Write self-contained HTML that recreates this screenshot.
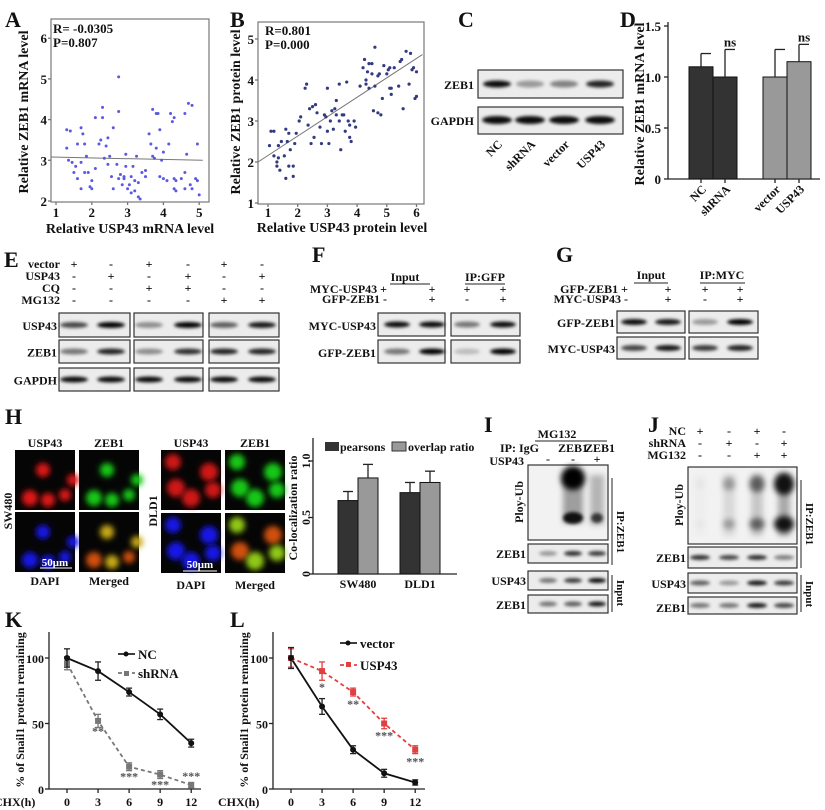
<!DOCTYPE html>
<html><head><meta charset="utf-8">
<style>
html,body{margin:0;padding:0;background:#fff;}
svg{display:block;font-family:"Liberation Serif",serif;font-weight:bold;}
</style></head>
<body>
<svg id="fig" width="825" height="810" viewBox="0 0 825 810" xmlns="http://www.w3.org/2000/svg">
<defs>
<filter id="blur2" x="-50%" y="-100%" width="200%" height="300%"><feGaussianBlur stdDeviation="1.6"/></filter>
<filter id="blur4" x="-50%" y="-50%" width="200%" height="200%"><feGaussianBlur stdDeviation="3"/></filter>
<filter id="blur6" x="-50%" y="-50%" width="200%" height="200%"><feGaussianBlur stdDeviation="5"/></filter>
</defs>
</svg>
<script>
// ---------- data ----------
const scatterAx=[1.3,1.4,1.3,1.35,1.45,1.5,1.55,1.6,1.6,1.7,1.7,1.7,1.75,1.8,1.8,1.85,1.9,1.95,2.0,2.0,2.1,2.1,2.2,2.25,2.3,2.3,2.35,2.4,2.45,2.45,2.5,2.55,2.6,2.6,2.7,2.75,2.75,2.75,2.8,2.85,2.9,2.9,2.95,2.95,3.0,3.05,3.1,3.1,3.15,3.2,3.2,3.25,3.3,3.3,3.35,3.4,3.5,3.5,3.6,3.65,3.7,3.7,3.75,3.8,3.85,3.8,3.9,3.9,3.95,4.0,4.0,4.1,4.15,4.2,4.25,4.3,4.3,4.3,4.35,4.35,4.5,4.6,4.6,4.6,4.65,4.7,4.75,4.8,4.8,4.9,4.95,4.95,5.0];
const scatterAy=[3.75,3.72,3.3,3.0,2.95,2.7,2.85,3.4,2.55,3.8,2.95,2.3,3.65,3.4,2.7,3.1,2.7,2.35,2.5,2.3,4.05,2.8,3.4,3.5,4.3,4.05,3.05,3.35,3.55,2.9,3.1,2.6,3.8,2.3,2.9,5.05,4.2,2.55,2.65,2.4,2.6,2.55,3.15,2.85,2.3,2.4,2.2,2.6,2.85,2.5,2.25,3.1,2.45,2.1,2.05,2.7,2.75,2.6,3.65,3.4,4.25,3.1,3.05,4.15,4.15,3.3,3.75,2.6,3.0,3.2,2.55,2.5,3.4,4.15,3.95,4.05,2.55,2.3,2.25,2.5,2.55,4.15,2.7,2.3,3.15,4.4,2.4,4.35,2.3,2.55,3.4,2.5,2.15];
const scatterBx=[1.05,1.1,1.2,1.2,1.3,1.3,1.35,1.35,1.4,1.45,1.55,1.6,1.6,1.65,1.7,1.7,1.75,1.85,1.85,1.9,1.95,2.05,2.1,2.25,2.3,2.35,2.4,2.45,2.5,2.55,2.6,2.65,2.75,2.8,2.9,2.95,3.0,3.0,3.05,3.1,3.15,3.2,3.25,3.3,3.3,3.4,3.4,3.45,3.5,3.55,3.6,3.65,3.7,3.75,3.75,3.8,3.9,3.95,4.1,4.2,4.25,4.3,4.3,4.35,4.4,4.4,4.5,4.5,4.55,4.6,4.6,4.7,4.7,4.75,4.8,4.85,4.9,5.0,5.05,5.1,5.1,5.15,5.15,5.25,5.4,5.45,5.5,5.55,5.65,5.75,5.8,5.85,5.9,5.95,6.0,6.0];
const scatterBy=[2.4,2.75,2.75,2.15,1.9,2.0,2.1,2.4,1.8,2.5,2.15,1.6,2.8,2.5,1.9,2.7,2.3,1.9,1.65,2.45,2.7,3.0,3.1,3.8,3.9,2.9,3.3,2.45,3.35,2.6,3.4,3.2,2.85,2.45,3.15,3.1,3.8,2.75,2.45,3.0,3.25,2.8,3.3,3.5,3.15,3.9,3.0,2.3,3.15,3.15,2.75,3.95,3.0,2.9,2.6,2.5,3.0,2.85,3.85,4.3,4.5,3.9,4.0,4.2,4.4,3.8,4.4,4.15,3.25,4.8,3.85,3.2,4.1,4.15,3.15,3.55,4.35,4.15,4.25,4.3,3.8,3.8,3.65,4.3,3.85,4.45,4.5,3.3,4.7,3.9,4.65,4.25,4.3,3.55,3.6,4.2];
const fitA=[[1.0,3.08],[5.1,3.0]];
const fitB=[[0.7,2.0],[6.2,4.62]];
const dCats=["NC","shRNA","vector","USP43"];
const dVals=[1.1,1.0,1.0,1.15];
const dErr=[0.13,0.27,0.27,0.17];
const dSig=["","ns","","ns"];
const hGroups=["SW480","DLD1"];
const hPearson=[0.65,0.72];
const hPearsonErr=[0.08,0.09];
const hOverlap=[0.85,0.81];
const hOverlapErr=[0.12,0.10];
const timeTicks=[0,3,6,9,12];
const kNC=[100,90,74,57,35];
const kNCerr=[7,7,3,4,3];
const kSh=[96,52,17,11,3];
const kShErr=[5,5,3,3,2];
const kSig=["","**","***","***","***"];
const lVec=[100,63,30,12,5];
const lVecErr=[8,6,3,3,2];
const lUsp=[100,90,74,50,30];
const lUspErr=[7,7,3,4,3];
const lSig=["","*","**","***","***"];

// ---------- helpers ----------
const svg=document.getElementById('fig');
const NS="http://www.w3.org/2000/svg";
function mk(tag,attrs,name,parent){
  const el=document.createElementNS(NS,tag);
  for(const k in attrs) el.setAttribute(k,attrs[k]);
  
  
  (parent||svg).appendChild(el);
  return el;
}
function txt(x,y,s,name,o){
  o=o||{};
  const a={x:x,y:y,'font-size':o.size||13,'text-anchor':o.anchor||'start',fill:o.fill||'#111'};
  if(o.rot!==undefined){a.transform='rotate('+o.rot+' '+x+' '+y+')';}
  const t=mk('text',a,name);
  t.textContent=s;
  return t;
}
function line(x1,y1,x2,y2,name,o){
  o=o||{};
  return mk('line',{x1:x1,y1:y1,x2:x2,y2:y2,stroke:o.stroke||'#222','stroke-width':o.w||1.3,'stroke-dasharray':o.dash||'none'},name);
}
function box(x,y,w,h,name,fill){
  return mk('rect',{x:x,y:y,width:w,height:h,fill:fill||'#ececec',stroke:'#333','stroke-width':1.2},name);
}
function band(cx,cy,w,h,op,name){
  return mk('ellipse',{cx:cx,cy:cy,rx:w/2,ry:h/2,fill:'#000','fill-opacity':op,filter:'url(#blur2)'},name);
}

// ---------- panel letters ----------
[["A",5,27],["B",230,27],["C",458,27],["D",620,27],["E",4,267],["F",312,262],["G",556,262],["H",5,424],["I",484,432],["J",648,432],["K",5,627],["L",230,627]].forEach(p=>{
  txt(p[1],p[2],p[0],'panel-label-'+p[0].toLowerCase(),{size:22});
});

// ---------- Panel A ----------
const axA=v=>56+(v-1)*35.8, ayA=v=>201-(v-2)*40.7;
mk('rect',{x:51,y:19,width:158,height:183,fill:'none',stroke:'#777','stroke-width':1.2},'scatter-a-frame');
[2,3,4,5,6].forEach(v=>{txt(47,ayA(v)+5,String(v),'a-y-tick',{anchor:'end'});line(48,ayA(v),51,ayA(v),'a-y-tickmark',{stroke:'#777'});});
[1,2,3,4,5].forEach(v=>{txt(axA(v),217,String(v),'a-x-tick',{anchor:'middle'});line(axA(v),202,axA(v),205,'a-x-tickmark',{stroke:'#777'});});
txt(130,233,'Relative USP43 mRNA level','a-x-axis-title',{anchor:'middle',size:14});
txt(28,112,'Relative ZEB1 mRNA level','a-y-axis-title',{anchor:'middle',size:14,rot:-90});
txt(53,33,'R= -0.0305','a-r-value',{size:13});
txt(53,47,'P=0.807','a-p-value',{size:13});
line(axA(fitA[0][0])-5,ayA(fitA[0][1]),axA(fitA[1][0]),ayA(fitA[1][1]),'a-fit-line',{stroke:'#777',w:1});
scatterAx.forEach((v,i)=>{mk('circle',{cx:axA(v),cy:ayA(scatterAy[i]),r:1.5,fill:'#5a5ae0'},'a-point');});

// ---------- Panel B ----------
const axB=v=>268+(v-1)*29.7, ayB=v=>203-(v-1)*41;
mk('rect',{x:258,y:22,width:166,height:182,fill:'none',stroke:'#777','stroke-width':1.2},'scatter-b-frame');
[1,2,3,4,5].forEach(v=>{txt(254,ayB(v)+5,String(v),'b-y-tick',{anchor:'end'});line(255,ayB(v),258,ayB(v),'b-y-tickmark',{stroke:'#777'});});
[1,2,3,4,5,6].forEach(v=>{txt(axB(v),217,String(v),'b-x-tick',{anchor:'middle'});line(axB(v),204,axB(v),207,'b-x-tickmark',{stroke:'#777'});});
txt(342,232,'Relative USP43 protein level','b-x-axis-title',{anchor:'middle',size:14});
txt(240,112,'Relative ZEB1 protein level','b-y-axis-title',{anchor:'middle',size:14,rot:-90});
txt(265,35,'R=0.801','b-r-value',{size:13});
txt(265,49,'P=0.000','b-p-value',{size:13});
line(258,ayB(fitB[0][1]),axB(fitB[1][0]),ayB(fitB[1][1]),'b-fit-line',{stroke:'#777',w:1});
scatterBx.forEach((v,i)=>{mk('circle',{cx:axB(v),cy:ayB(scatterBy[i]),r:1.6,fill:'#333a80'},'b-point');});

// ---------- Panel C ----------
box(478,70,145,28,'c-zeb1-blot');
box(478,107,145,27,'c-gapdh-blot');
txt(474,89,'ZEB1','c-zeb1-label',{anchor:'end',size:12});
txt(474,125,'GAPDH','c-gapdh-label',{anchor:'end',size:12});
[[497,0.95],[530,0.35],[564,0.45],[600,0.85]].forEach(b=>band(b[0],84,28,7,b[1],'c-zeb1-band'));
[497,530,564,600].forEach(x=>band(x,120,30,8,0.95,'c-gapdh-band'));
[["NC",497],["shRNA",530],["vector",564],["USP43",600]].forEach(l=>txt(l[1]+6,145,l[0],'c-lane-label',{anchor:'end',size:12,rot:-45}));

// ---------- Panel D ----------
const ayD=v=>179-v*102;
const dX=[701,725,775,799];
const dAxisX=668;
line(dAxisX,22,dAxisX,179,'d-y-axis');
line(dAxisX,179,820,179,'d-x-axis');
[0,0.5,1.0,1.5].forEach(v=>{line(dAxisX-4,ayD(v),dAxisX,ayD(v),'d-y-tickmark');txt(dAxisX-7,ayD(v)+5,v===0?'0':v.toFixed(1),'d-y-tick',{anchor:'end'});});
txt(644,104,'Relative ZEB1 mRNA level','d-y-axis-title',{anchor:'middle',size:14,rot:-90});
dVals.forEach((v,i)=>{
  const c=i<2?'#333':'#999';
  mk('rect',{x:dX[i]-12,y:ayD(v),width:24,height:179-ayD(v),fill:c,stroke:'#111','stroke-width':1},'d-bar-'+dCats[i].toLowerCase());
  line(dX[i],ayD(v),dX[i],ayD(v+dErr[i]),'d-error-bar');
  line(dX[i],ayD(v+dErr[i]),dX[i]+10,ayD(v+dErr[i]),'d-error-cap');
  if(dSig[i]) txt(dX[i]+5,ayD(v+dErr[i])-3,dSig[i],'d-significance',{anchor:'middle',size:13});
  line(dX[i],179,dX[i],183,'d-x-tickmark');
  txt(dX[i]+6,190,dCats[i],'d-x-tick',{anchor:'end',size:12,rot:-45});
});

// ---------- Panel E ----------
const eRows=[["vector",268,["+","-","+","-","+","-"]],["USP43",280,["-","+","-","+","-","+"]],["CQ",292,["-","-","+","+","-","-"]],["MG132",304,["-","-","-","-","+","+"]]];
const eCols=[74,111,149,188,224,262];
eRows.forEach(r=>{txt(60,r[1],r[0],'e-condition-label',{anchor:'end',size:12});r[2].forEach((s,i)=>txt(eCols[i],r[1],s,'e-condition-sign',{anchor:'middle',size:12}));});
const eBoxes=[[59,71],[134,69],[209,70]];
const eBlots=[["USP43",313,24,[0.7,1,0.4,1,0.6,0.9]],["ZEB1",340,23,[0.5,0.85,0.4,0.8,0.85,0.85]],["GAPDH",368,23,[0.95,0.95,0.95,0.95,0.95,0.95]]];
eBlots.forEach(r=>{
  txt(57,r[1]+r[2]/2+5,r[0],'e-blot-label',{anchor:'end',size:12});
  eBoxes.forEach(b=>box(b[0],r[1],b[1],r[2],'e-'+r[0].toLowerCase()+'-blot'));
  r[3].forEach((op,i)=>band(eCols[i],r[1]+r[2]/2,28,6,op,'e-band'));
});

// ---------- Panel F ----------
txt(405,281,'Input','f-input-header',{anchor:'middle',size:12});line(390,284,430,284,'f-input-underline',{w:1});
txt(485,281,'IP:GFP','f-ip-header',{anchor:'middle',size:12});line(465,284,505,284,'f-ip-underline',{w:1});
const fCols=[397,432,467,503];
[["MYC-USP43",293,["+","+","+","+"]],["GFP-ZEB1",303,["-","+","-","+"]]].forEach(r=>{txt(387,r[1],r[0]+' '+r[2][0],'f-condition-label',{anchor:'end',size:12});r[2].slice(1).forEach((s,i)=>txt(fCols[i+1],r[1],s,'f-condition-sign',{anchor:'middle',size:12}));});
[["MYC-USP43",313,[0.95,0.95,0.5,0.95]],["GFP-ZEB1",340,[0.5,1,0.2,1]]].forEach(r=>{
  txt(376,r[1]+17,r[0],'f-blot-label',{anchor:'end',size:12});
  box(378,r[1],67,23,'f-input-blot');box(451,r[1],69,23,'f-ip-blot');
  r[2].forEach((op,i)=>band(fCols[i],r[1]+11.5,26,6,op,'f-band'));
});

// ---------- Panel G ----------
txt(651,279,'Input','g-input-header',{anchor:'middle',size:12});line(634,283,668,283,'g-input-underline',{w:1});
txt(722,279,'IP:MYC','g-ip-header',{anchor:'middle',size:12});line(700,283,745,283,'g-ip-underline',{w:1});
const gCols=[634,668,705,740];
[["GFP-ZEB1",293,["+","+","+","+"]],["MYC-USP43",303,["-","+","-","+"]]].forEach(r=>{txt(628,r[1],r[0]+' '+r[2][0],'g-condition-label',{anchor:'end',size:12});r[2].slice(1).forEach((s,i)=>txt(gCols[i+1],r[1],s,'g-condition-sign',{anchor:'middle',size:12}));});
[["GFP-ZEB1",311,[0.95,0.9,0.35,1]],["MYC-USP43",337,[0.7,0.9,0.75,0.85]]].forEach(r=>{
  txt(615,r[1]+16,r[0],'g-blot-label',{anchor:'end',size:12});
  box(617,r[1],68,22,'g-input-blot');box(689,r[1],69,22,'g-ip-blot');
  r[2].forEach((op,i)=>band(gCols[i],r[1]+11,26,6,op,'g-band'));
});

// ---------- Panel H images ----------
function cell(x,y,colors,blobs,name){
  mk('rect',{x:x,y:y,width:60,height:60,fill:'#050505'},name);
  blobs.forEach((b,i)=>mk('circle',{cx:x+b[0],cy:y+b[1],r:b[2],fill:colors[i%colors.length],filter:'url(#blur4)'},name+'-cell'));
}
const swBlobs=[[28,20,7],[15,48,8],[33,50,7],[50,45,6],[58,30,6]];
const dlBlobs=[[12,12,8],[15,38,9],[30,48,9],[48,22,9],[52,40,8]];
cell(15,450,['#e01818'],swBlobs,'h-sw480-usp43-image');
cell(79,450,['#18c818'],swBlobs,'h-sw480-zeb1-image');
cell(15,512,['#1818e8'],swBlobs,'h-sw480-dapi-image');
cell(79,512,['#c8a818','#d05010'],swBlobs,'h-sw480-merged-image');
cell(161,450,['#d01818'],dlBlobs,'h-dld1-usp43-image');
cell(225,450,['#18c818'],dlBlobs,'h-dld1-zeb1-image');
cell(161,513,['#1818e8'],dlBlobs,'h-dld1-dapi-image');
cell(225,513,['#90c818','#d05010'],dlBlobs,'h-dld1-merged-image');
txt(45,447,'USP43','h-usp43-label',{anchor:'middle',size:12});txt(109,447,'ZEB1','h-zeb1-label',{anchor:'middle',size:12});
txt(191,447,'USP43','h-usp43-label-2',{anchor:'middle',size:12});txt(255,447,'ZEB1','h-zeb1-label-2',{anchor:'middle',size:12});
txt(45,585,'DAPI','h-dapi-label',{anchor:'middle',size:12});txt(109,585,'Merged','h-merged-label',{anchor:'middle',size:12});
txt(191,589,'DAPI','h-dapi-label-2',{anchor:'middle',size:12});txt(255,589,'Merged','h-merged-label-2',{anchor:'middle',size:12});
txt(12,511,'SW480','h-sw480-label',{anchor:'middle',size:12,rot:-90});
txt(157,511,'DLD1','h-dld1-label',{anchor:'middle',size:12,rot:-90});
txt(55,566,'50μm','h-scale-label',{anchor:'middle',size:11,fill:'#fff'});line(40,568,72,568,'h-scale-bar',{stroke:'#fff',w:1});
txt(200,568,'50μm','h-scale-label-2',{anchor:'middle',size:11,fill:'#fff'});line(183,571,217,571,'h-scale-bar-2',{stroke:'#fff',w:1});

// ---------- Panel H bar chart ----------
const ayH=v=>574-v*113;
const hX=[358,420];
line(313,438,313,574,'h-y-axis');line(313,574,457,574,'h-x-axis');
[0,0.5,1.0].forEach(v=>{line(309,ayH(v),313,ayH(v),'h-y-tickmark');txt(310,ayH(v),v===0?'0':v.toFixed(1),'h-y-tick',{anchor:'middle',size:12,rot:-90});});
txt(297,508,'Co-localization ratio','h-y-axis-title',{anchor:'middle',size:12,rot:-90});
hGroups.forEach((g,i)=>{
  mk('rect',{x:hX[i]-20,y:ayH(hPearson[i]),width:20,height:574-ayH(hPearson[i]),fill:'#333',stroke:'#111'},'h-bar-pearsons-'+g.toLowerCase());
  mk('rect',{x:hX[i],y:ayH(hOverlap[i]),width:20,height:574-ayH(hOverlap[i]),fill:'#999',stroke:'#111'},'h-bar-overlap-'+g.toLowerCase());
  line(hX[i]-10,ayH(hPearson[i]),hX[i]-10,ayH(hPearson[i]+hPearsonErr[i]),'h-error-bar');
  line(hX[i]-15,ayH(hPearson[i]+hPearsonErr[i]),hX[i]-5,ayH(hPearson[i]+hPearsonErr[i]),'h-error-cap');
  line(hX[i]+10,ayH(hOverlap[i]),hX[i]+10,ayH(hOverlap[i]+hOverlapErr[i]),'h-error-bar');
  line(hX[i]+5,ayH(hOverlap[i]+hOverlapErr[i]),hX[i]+15,ayH(hOverlap[i]+hOverlapErr[i]),'h-error-cap');
  txt(hX[i],588,g,'h-x-tick',{anchor:'middle',size:12});
});
mk('rect',{x:325,y:442,width:14,height:9,fill:'#333'},'h-legend-pearsons-swatch');
txt(340,451,'pearsons','h-legend-pearsons',{size:12});
mk('rect',{x:392,y:442,width:14,height:9,fill:'#999',stroke:'#333'},'h-legend-overlap-swatch');
txt(408,451,'overlap ratio','h-legend-overlap',{size:12});

// ---------- Panel I ----------
txt(557,438,'MG132','i-mg132-header',{anchor:'middle',size:12});line(535,441,607,441,'i-mg132-line',{w:1});
txt(500,452,'IP: IgG','i-ip-label',{size:12});txt(573,452,'ZEB1','i-ip-zeb1',{anchor:'middle',size:12});txt(600,452,'ZEB1','i-ip-zeb1-2',{anchor:'middle',size:12});
txt(524,465,'USP43','i-usp43-label',{anchor:'end',size:12});
const iCols=[548,573,597];
["-","-","+"].forEach((s,i)=>txt(iCols[i],463,s,'i-sign',{anchor:'middle',size:12}));
box(528,465,80,75,'i-polyub-blot','#f2f2f2');
mk('ellipse',{cx:573,cy:478,rx:12,ry:12,fill:'#000',filter:'url(#blur4)'},'i-polyub-smear');
mk('rect',{x:563,y:478,width:20,height:45,fill:'#000','fill-opacity':0.35,filter:'url(#blur4)'},'i-polyub-smear-body');
mk('ellipse',{cx:573,cy:518,rx:10,ry:6,fill:'#000','fill-opacity':0.9,filter:'url(#blur2)'},'i-polyub-band');
mk('rect',{x:590,y:475,width:14,height:50,fill:'#000','fill-opacity':0.25,filter:'url(#blur4)'},'i-polyub-smear-2');
mk('ellipse',{cx:597,cy:518,rx:6,ry:5,fill:'#000','fill-opacity':0.7,filter:'url(#blur2)'},'i-polyub-band-2');
txt(523,502,'Ploy-Ub','i-polyub-label',{anchor:'middle',size:12,rot:-90});
[["ZEB1",544,19,[0.35,0.8,0.75]],["USP43",571,19,[0.5,0.75,0.95]],["ZEB1",595,18,[0.5,0.6,0.9]]].forEach(r=>{
  txt(526,r[1]+14,r[0],'i-blot-label',{anchor:'end',size:12});
  box(528,r[1],80,r[2],'i-'+r[0].toLowerCase()+'-blot');
  r[3].forEach((op,i)=>band(iCols[i],r[1]+r[2]/2,18,5,op,'i-band'));
});
line(612,478,612,565,'i-ip-bracket',{w:1});txt(617,532,'IP:ZEB1','i-ip-bracket-label',{anchor:'middle',size:11,rot:90});
line(612,575,612,612,'i-input-bracket',{w:1});txt(617,593,'Input','i-input-bracket-label',{anchor:'middle',size:11,rot:90});

// ---------- Panel J ----------
const jCols=[700,729,757,784];
[["NC",435,["+","-","+","-"]],["shRNA",447,["-","+","-","+"]],["MG132",459,["-","-","+","+"]]].forEach(r=>{txt(686,r[1],r[0],'j-condition-label',{anchor:'end',size:12});r[2].forEach((s,i)=>txt(jCols[i],r[1],s,'j-condition-sign',{anchor:'middle',size:12}));});
box(688,467,109,77,'j-polyub-blot','#f2f2f2');
[0.05,0.35,0.6,1].forEach((op,i)=>{
  mk('rect',{x:jCols[i]-6,y:474,width:12,height:62,fill:'#000','fill-opacity':op*0.3,filter:'url(#blur4)'},'j-polyub-smear');
  mk('ellipse',{cx:jCols[i],cy:484,rx:4+op*6,ry:4+op*7,fill:'#000','fill-opacity':op*0.9,filter:'url(#blur4)'},'j-polyub-top');
  mk('ellipse',{cx:jCols[i],cy:524,rx:4+op*6,ry:3+op*5,fill:'#000','fill-opacity':op*0.9,filter:'url(#blur4)'},'j-polyub-band');
});
txt(683,505,'Ploy-Ub','j-polyub-label',{anchor:'middle',size:12,rot:-90});
[["ZEB1",547,21,[0.8,0.7,0.8,0.45]],["USP43",573,20,[0.6,0.35,0.9,0.75]],["ZEB1",597,17,[0.5,0.5,0.9,0.7]]].forEach(r=>{
  txt(686,r[1]+15,r[0],'j-blot-label',{anchor:'end',size:12});
  box(688,r[1],109,r[2],'j-'+r[0].toLowerCase()+'-blot');
  r[3].forEach((op,i)=>band(jCols[i],r[1]+r[2]/2,20,5,op,'j-band'));
});
line(801,480,801,568,'j-ip-bracket',{w:1});txt(806,524,'IP:ZEB1','j-ip-bracket-label',{anchor:'middle',size:11,rot:90});
line(801,575,801,612,'j-input-bracket',{w:1});txt(806,594,'Input','j-input-bracket-label',{anchor:'middle',size:11,rot:90});

// ---------- Panels K & L ----------
function lineChart(ox,prefix,s1,e1,s2,e2,c2){
  const ax=t=>ox+18+t*10.35, ay=v=>789-v*1.31;
  line(ox,632,ox,789,prefix+'-y-axis');line(ox,789,ox+152,789,prefix+'-x-axis');
  [0,50,100].forEach(v=>{line(ox-4,ay(v),ox,ay(v),prefix+'-y-tickmark');txt(ox-5,ay(v)+5,String(v),prefix+'-y-tick',{anchor:'end',size:12});});
  timeTicks.forEach(t=>{line(ax(t),789,ax(t),793,prefix+'-x-tickmark');txt(ax(t),806,String(t),prefix+'-x-tick',{anchor:'middle',size:12});});
  txt(ox-55,806,'CHX(h)',prefix+'-x-axis-title',{size:12});
  txt(ox-25,710,'% of Snail1 protein remaining',prefix+'-y-axis-title',{anchor:'middle',size:12,rot:-90});
  const p2=s2.map((v,i)=>ax(timeTicks[i])+','+ay(v)).join(' ');
  mk('polyline',{points:p2,fill:'none',stroke:c2,'stroke-width':1.8,'stroke-dasharray':'4,3'},prefix+'-series-2-line');
  const p1=s1.map((v,i)=>ax(timeTicks[i])+','+ay(v)).join(' ');
  mk('polyline',{points:p1,fill:'none',stroke:'#111','stroke-width':1.8},prefix+'-series-1-line');
  s2.forEach((v,i)=>{const x=ax(timeTicks[i]);
    line(x,ay(v-e2[i]),x,ay(v+e2[i]),prefix+'-series-2-error',{stroke:c2});
    line(x-3,ay(v-e2[i]),x+3,ay(v-e2[i]),prefix+'-series-2-cap',{stroke:c2});line(x-3,ay(v+e2[i]),x+3,ay(v+e2[i]),prefix+'-series-2-cap',{stroke:c2});
    mk('rect',{x:x-3,y:ay(v)-3,width:6,height:6,fill:c2},prefix+'-series-2-point');
  });
  s1.forEach((v,i)=>{const x=ax(timeTicks[i]);
    line(x,ay(v-e1[i]),x,ay(v+e1[i]),prefix+'-series-1-error');
    line(x-3,ay(v-e1[i]),x+3,ay(v-e1[i]),prefix+'-series-1-cap');line(x-3,ay(v+e1[i]),x+3,ay(v+e1[i]),prefix+'-series-1-cap');
    mk('circle',{cx:x,cy:ay(v),r:3,fill:'#111'},prefix+'-series-1-point');
  });
  return {ax:ax,ay:ay};
}
const K=lineChart(49,'k',kNC,kNCerr,kSh,kShErr,'#777');
kSh.forEach((v,i)=>{if(kSig[i]){const last=i===timeTicks.length-1;txt(K.ax(timeTicks[i]),last?K.ay(v)-5:K.ay(v)+14,kSig[i],'k-significance',{anchor:'middle',size:12,fill:'#555'});}});
line(118,654,135,654,'k-legend-nc-line',{w:1.8});mk('circle',{cx:126,cy:654,r:2.5,fill:'#111'},'k-legend-nc-marker');txt(138,659,'NC','k-legend-nc',{size:13});
line(118,673,135,673,'k-legend-shrna-line',{w:1.8,stroke:'#777',dash:'4,3'});mk('rect',{x:124,y:671,width:5,height:5,fill:'#777'},'k-legend-shrna-marker');txt(138,678,'shRNA','k-legend-shrna',{size:13});
const L=lineChart(273,'l',lVec,lVecErr,lUsp,lUspErr,'#e04040');
lUsp.forEach((v,i)=>{if(lSig[i]) txt(L.ax(timeTicks[i]),L.ay(v)+(i===1?20:16),lSig[i],'l-significance',{anchor:'middle',size:12,fill:'#555'});});
line(340,643,357,643,'l-legend-vector-line',{w:1.8});mk('circle',{cx:348,cy:643,r:2.5,fill:'#111'},'l-legend-vector-marker');txt(360,648,'vector','l-legend-vector',{size:13});
line(340,665,357,665,'l-legend-usp43-line',{w:1.8,stroke:'#e04040',dash:'4,3'});mk('rect',{x:346,y:662,width:5,height:5,fill:'#e04040'},'l-legend-usp43-marker');txt(360,670,'USP43','l-legend-usp43',{size:13});
</script>
</body></html>
